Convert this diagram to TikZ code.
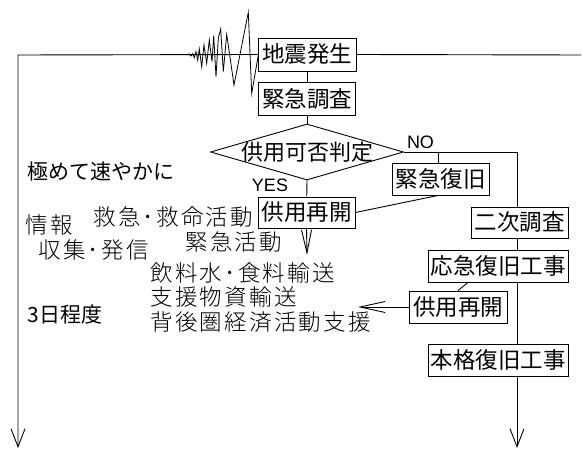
\documentclass[tikz,border=0pt]{standalone}
\usepackage{fontspec}
\setmainfont{Noto Sans CJK JP}
\newfontfamily\latfont{Liberation Sans}
\newfontfamily\thinfont[LetterSpace=10]{Noto Sans CJK JP Light}
\usetikzlibrary{shapes.geometric,arrows.meta}
\begin{document}
\begin{tikzpicture}[x=1pt,y=-1pt,line width=0.9pt,
  box/.style={draw,inner sep=0pt,font=\fontsize{22.5}{22.5}\selectfont},
  lab/.style={inner sep=0pt,anchor=west,font=\fontsize{21}{21}\selectfont},
  thinlab/.style={inner sep=0pt,anchor=west,font=\thinfont\fontsize{22.5}{22.5}\selectfont},
  yn/.style={inner sep=0pt,font=\latfont\fontsize{18}{18}\selectfont},
  vlong/.style={-{Straight Barb[length=18pt,width=14pt,line width=0.9pt]}},
  vmid/.style={-{Straight Barb[length=23pt,width=10pt,line width=0.9pt]}},
  vside/.style={-{Straight Barb[length=25pt,width=11pt,line width=0.9pt]}}]
\useasboundingbox (0,0) rectangle (582,449);

% seismic wave
\draw[line width=0.8pt,line join=miter]
  (186.7,55) -- (189.3,54) -- (191,56) -- (192.7,53.7) -- (194.3,57.7)
  -- (196,51.7) -- (197.7,60) -- (199.3,49) -- (201.7,66.7) -- (204,45)
  -- (206.7,63.3) -- (209.3,40) -- (212,61.7) -- (213.7,35.7) -- (216,76.7)
  -- (218.3,38.3) -- (220.7,29) -- (223.3,71.7) -- (226.7,34.3) -- (234,85)
  -- (248.3,12.3) -- (251.7,93.3) -- (258.3,55);

% boxes
\node[box,minimum width=98pt,minimum height=33pt] (quake) at (307,54.5) {地震発生};
\node[box,minimum width=97pt,minimum height=33pt] (survey) at (307,98.5) {緊急調査};
\node[draw,diamond,aspect=3.45,minimum width=193pt,minimum height=56pt,inner sep=0pt] (judge) at (307,152) {};
\node[inner sep=0pt,font=\fontsize{22}{22}\selectfont] (judget) at (307.5,152) {供用可否判定};
\node[box,minimum width=97pt,minimum height=32pt] (kinkyu) at (440.5,179) {緊急復旧};
\node[box,minimum width=97pt,minimum height=31pt] (kyoyo1) at (306.5,212.5) {供用再開};
\node[box,minimum width=97pt,minimum height=31pt] (niji) at (519.5,222.5) {二次調査};
\node[box,minimum width=140pt,minimum height=32pt] (okyu) at (498,266) {応急復旧工事};
\node[box,minimum width=98pt,minimum height=32pt] (kyoyo2) at (458,307) {供用再開};
\node[box,minimum width=140pt,minimum height=32pt] (honkaku) at (498,360) {本格復旧工事};

% labels
\node[yn] (yes) at (270,185) {YES};
\node[yn] (no) at (420.5,142) {NO};
\node[lab] (hayaku) at (27,172) {極めて速やかに};
\node[lab] (mikka) at (27,315) {3日程度};
\node[thinlab] (kyumei) at (93,217) {救急･救命活動};
\node[thinlab] (joho) at (25,225) {情報};
\node[thinlab] (shushu) at (38,250) {収集･発信};
\node[thinlab] (kinkyukatsu) at (185,242) {緊急活動};
\node[thinlab] (inryo) at (150,273) {飲料水･食料輸送};
\node[thinlab] (shien) at (150,297) {支援物資輸送};
\node[thinlab] (haigo) at (150,322) {背後圏経済活動支援};

% coordinates
\coordinate (L0) at (18,55);
\coordinate (L1) at (18,448);
\coordinate (R0) at (581,55);
\coordinate (c1) at (517,152);
\coordinate (b1) at (438,152);
\coordinate (c2) at (517,448);
\coordinate (a1) at (307,255);
\coordinate (a2) at (358,307);

% connectors
\draw[vlong] (quake.west) -- (L0) -- (L1);
\draw (quake.east) -- (R0);
\draw (quake) -- (survey);
\draw (survey) -- (judge.north);
\draw (judge.south) -- (kyoyo1);
\draw (judge.east) -- (c1) -- (niji.north -| c1);
\draw (b1) -- (kinkyu.north -| b1);
\draw (kinkyu.south -| b1) -- (kyoyo1.east);
\draw[vmid] (kyoyo1.south) -- (a1);
\draw (niji.south -| c1) -- (okyu.north -| c1);
\draw (okyu.south -| c1) -- (honkaku.north -| c1);
\draw[vlong] (honkaku.south -| c1) -- (c2);
\draw ([xshift=-30pt]okyu.south) -- (kyoyo2.north);
\draw[vside] (kyoyo2.west) -- (a2);
\end{tikzpicture}
\end{document}
